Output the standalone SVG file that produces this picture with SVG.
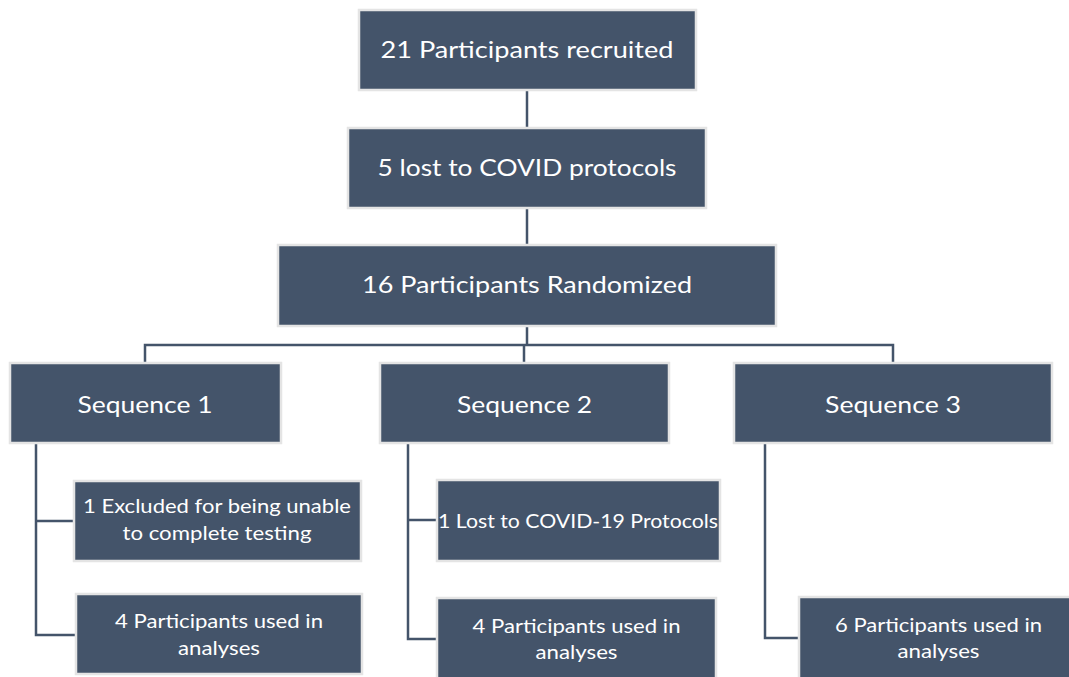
<svg xmlns="http://www.w3.org/2000/svg" width="1069" height="677" viewBox="0 0 1069 677">
<style>
.box{fill:#44546A;stroke:#E4E4E4;stroke-width:2.5}
.t{font-family:Lato,"Open Sans","Liberation Sans",sans-serif;fill:#FFFFFF;text-anchor:middle}
.lg{font-size:24px}
.sm{font-size:20px}
.c{fill:none;stroke:#44546A;stroke-width:2.5}
</style>
<rect width="1069" height="677" fill="#FFFFFF"/>
<g id="connectors">
<path class="c" d="M527 91V127"/>
<path class="c" d="M527 209V244"/>
<path class="c" d="M527 327V345M145 362V345H893V362M524 345V362"/>
<path class="c" d="M36 444V635H76M36 521H74"/>
<path class="c" d="M408 444V639H437M408 520H437"/>
<path class="c" d="M765 444V638H799"/>
</g>
<g id="n1"><rect class="box" x="359" y="10" width="337" height="80"/><text class="t lg" x="527" y="58" textLength="293" lengthAdjust="spacingAndGlyphs">21 Participants recruited</text></g>
<g id="n2"><rect class="box" x="348" y="128" width="358" height="80"/><text class="t lg" x="527" y="176" textLength="299" lengthAdjust="spacingAndGlyphs">5 lost to COVID protocols</text></g>
<g id="n3"><rect class="box" x="278" y="245" width="498" height="81"/><text class="t lg" x="527" y="293" textLength="330" lengthAdjust="spacingAndGlyphs">16 Participants Randomized</text></g>
<g id="s1"><rect class="box" x="10" y="363" width="271" height="80"/><text class="t lg" x="145" y="413" textLength="135" lengthAdjust="spacingAndGlyphs">Sequence 1</text></g>
<g id="s2"><rect class="box" x="380" y="363" width="289" height="80"/><text class="t lg" x="524.5" y="413" textLength="135" lengthAdjust="spacingAndGlyphs">Sequence 2</text></g>
<g id="s3"><rect class="box" x="734" y="363" width="318" height="80"/><text class="t lg" x="893" y="413" textLength="136" lengthAdjust="spacingAndGlyphs">Sequence 3</text></g>
<g id="e1"><rect class="box" x="74" y="481" width="287" height="80"/><text class="t sm" x="217" y="513" textLength="268" lengthAdjust="spacingAndGlyphs">1 Excluded for being unable</text><text class="t sm" x="217" y="540" textLength="189" lengthAdjust="spacingAndGlyphs">to complete testing</text></g>
<g id="a1"><rect class="box" x="76" y="594" width="286" height="80"/><text class="t sm" x="219" y="628" textLength="208" lengthAdjust="spacingAndGlyphs">4 Participants used in</text><text class="t sm" x="219" y="655" textLength="82" lengthAdjust="spacingAndGlyphs">analyses</text></g>
<g id="l2"><rect class="box" x="437" y="480" width="283" height="81"/><text class="t sm" x="578" y="528" textLength="280" lengthAdjust="spacingAndGlyphs">1 Lost to COVID-19 Protocols</text></g>
<g id="a2"><rect class="box" x="437" y="598" width="279" height="82"/><text class="t sm" x="576.5" y="633" textLength="208" lengthAdjust="spacingAndGlyphs">4 Participants used in</text><text class="t sm" x="576.5" y="659" textLength="82" lengthAdjust="spacingAndGlyphs">analyses</text></g>
<g id="a3"><rect class="box" x="799" y="597" width="280" height="83"/><text class="t sm" x="938.5" y="632" textLength="207" lengthAdjust="spacingAndGlyphs">6 Participants used in</text><text class="t sm" x="938.5" y="658" textLength="82" lengthAdjust="spacingAndGlyphs">analyses</text></g>
</svg>
